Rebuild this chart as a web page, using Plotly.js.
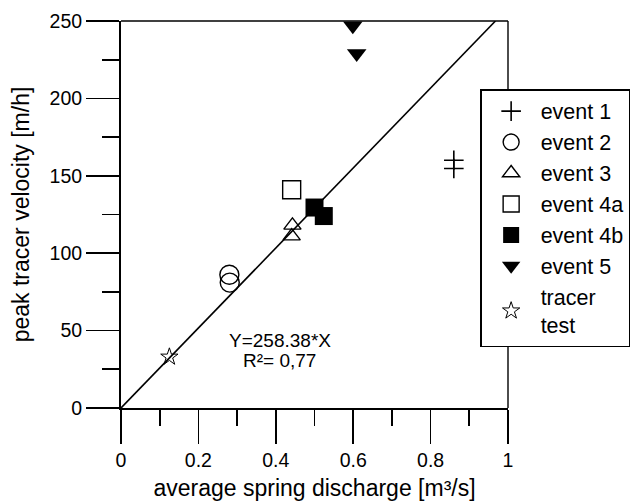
<!DOCTYPE html>
<html>
<head>
<meta charset="utf-8">
<script src="https://cdn.plot.ly/plotly-3.0.1.min.js"></script>
<style>html,body{margin:0;padding:0;background:#fff;} #chart{width:636px;height:501px;}</style>
</head>
<body>
<div id="chart"></div>
<script>
// Data
const event1X = [0.860, 0.860];
const event1Y = [160.0, 154.7];
const event2X = [0.280, 0.281];
const event2Y = [86.1, 81.0];
const event3X = [0.443, 0.441];
const event3Y = [118, 111];
const event4aX = [0.441];
const event4aY = [141];
const event4bX = [0.500, 0.524];
const event4bY = [129.5, 124];
const event5X = [0.599, 0.609];
const event5Y = [247, 229];
const tracerX = [0.125];
const tracerY = [33];
const slope = 258.38;
const fitX = [0, 250 / slope];
const fitY = fitX.map(v => slope * v);
const xTickVals = [0, 0.2, 0.4, 0.6, 0.8, 1];
const xTickText = ['0', '0.2', '0.4', '0.6', '0.8', '1'];
const yTickVals = [0, 50, 100, 150, 200, 250];
const yTickText = ['0', '50', '100', '150', '200', '250'];

const FONT = '"Liberation Sans", Arial, Helvetica, sans-serif';
const ln = {color: '#000', width: 1.4};

const traces = [
  {x: fitX, y: fitY, mode: 'lines', line: {color: '#000', width: 1.6}, showlegend: false, hoverinfo: 'skip'},
  {x: event1X, y: event1Y, mode: 'markers', name: 'event 1',
   marker: {symbol: 'cross-thin-open', size: 14, color: '#000', line: {color: '#000', width: 1.6}}},
  {x: event2X, y: event2Y, mode: 'markers', name: 'event 2',
   marker: {symbol: 'circle-open', size: 19, color: '#000', line: ln}},
  {x: event3X, y: event3Y, mode: 'markers', name: 'event 3',
   marker: {symbol: 'triangle-up-open', size: 15, color: '#000', line: ln}},
  {x: event4aX, y: event4aY, mode: 'markers', name: 'event 4a',
   marker: {symbol: 'square-open', size: 18, color: '#000', line: ln}},
  {x: event4bX, y: event4bY, mode: 'markers', name: 'event 4b',
   marker: {symbol: 'square', size: 18, color: '#000', line: {width: 0}}},
  {x: event5X, y: event5Y, mode: 'markers', name: 'event 5', cliponaxis: true,
   marker: {symbol: 'triangle-down', size: 17, color: '#000', line: {width: 0}}},
  {x: tracerX, y: tracerY, mode: 'markers', name: 'tracer<br>test',
   marker: {symbol: 'star-open', size: 13, color: '#000', line: {color: '#000', width: 1}}}
];

const layout = {
  width: 636, height: 501,
  margin: {l: 121, r: 128, t: 21, b: 93, autoexpand: false},
  paper_bgcolor: '#fff', plot_bgcolor: '#fff',
  font: {family: FONT, color: '#000', size: 19},
  showlegend: true,
  xaxis: {
    range: [0, 1], tickvals: xTickVals, ticktext: xTickText,
    showgrid: false, zeroline: false, showline: true, linecolor: '#000', linewidth: 2,
    ticks: 'outside', ticklen: 34, tickwidth: 1.6, tickcolor: '#000',
    tickfont: {family: FONT, size: 19.5, color: '#000'},
    minor: {tickvals: [0.1, 0.3, 0.5, 0.7, 0.9], ticks: 'outside', ticklen: 16, tickwidth: 1.6, tickcolor: '#000', showgrid: false},
    title: {text: 'average spring discharge [m³/s]', font: {family: FONT, size: 23, color: '#000'}, standoff: 9},
    automargin: false, fixedrange: true
  },
  yaxis: {
    range: [0, 250], tickvals: yTickVals, ticktext: yTickText,
    showgrid: false, zeroline: false, showline: true, linecolor: '#000', linewidth: 2,
    ticks: 'outside', ticklen: 33, tickwidth: 1.6, tickcolor: '#000',
    tickfont: {family: FONT, size: 19.5, color: '#000'},
    minor: {tickvals: [25, 75, 125, 175, 225], ticks: 'outside', ticklen: 17, tickwidth: 1.6, tickcolor: '#000', showgrid: false},
    title: {text: 'peak tracer velocity [m/h]', font: {family: FONT, size: 23, color: '#000'}, standoff: 14},
    automargin: false, fixedrange: true
  },
  legend: {
    x: 0.928, y: 0.824, xanchor: 'left', yanchor: 'top',
    bgcolor: '#fff', bordercolor: '#000', borderwidth: 1.5,
    font: {family: FONT, size: 21.5, color: '#000'},
    itemwidth: 49, tracegroupgap: 0
  },
  shapes: [
    {type: 'line', xref: 'paper', yref: 'paper', x0: 0, x1: 1, y0: 1, y1: 1, line: {color: '#000', width: 1.4}},
    {type: 'line', xref: 'paper', yref: 'paper', x0: 1, x1: 1, y0: 0, y1: 1, line: {color: '#000', width: 1.4}}
  ],
  annotations: [
    {x: 0.41, y: 43.7, xref: 'x', yref: 'y', text: 'Y=258.38*X', showarrow: false, font: {family: FONT, size: 19, color: '#000'}},
    {x: 0.41, y: 30.8, xref: 'x', yref: 'y', text: 'R²= 0,77', showarrow: false, font: {family: FONT, size: 19, color: '#000'}}
  ]
};

Plotly.newPlot('chart', traces, layout, {staticPlot: true, displayModeBar: false});
</script>
</body>
</html>
